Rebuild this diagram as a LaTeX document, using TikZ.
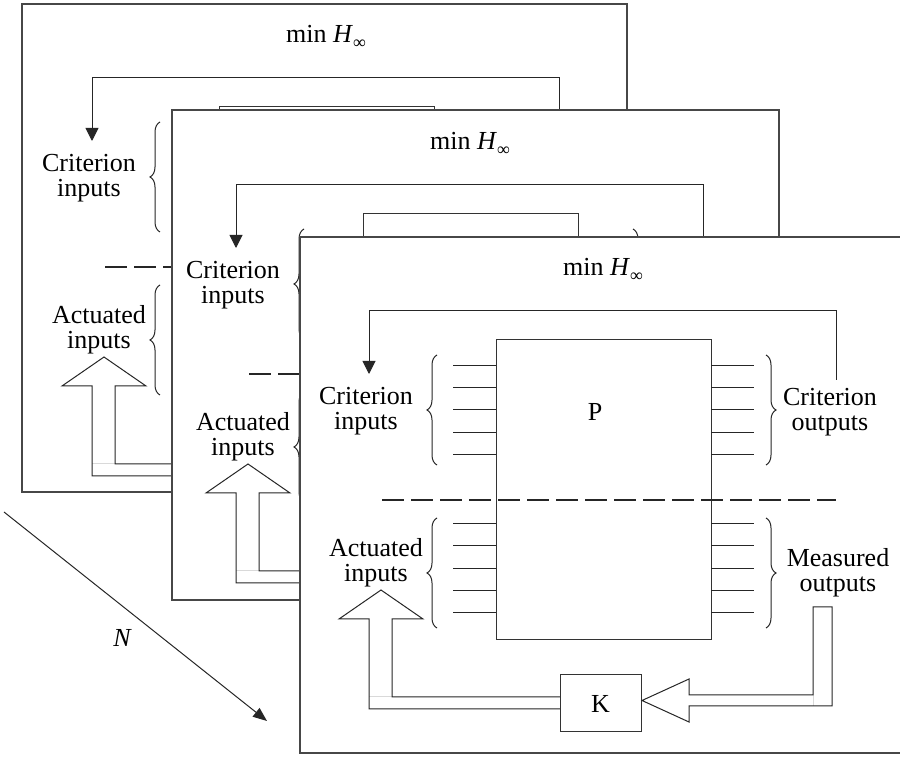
\documentclass[tikz,border=0pt]{standalone}
\usepackage{fontspec}
\setmainfont{Liberation Serif}
\usetikzlibrary{arrows.meta,decorations.pathreplacing}
\tikzset{
  panelbox/.style={draw=black!72, line width=0.7pt, fill=white},
  wire/.style={draw=black!85, line width=0.5pt},
  lbl/.style={font=\fontsize{13}{12.5}\selectfont, align=center, inner sep=0pt},
  fbarrow/.style={wire, -{Triangle[length=6.5pt,width=6.5pt]}},
  dashsep/.style={draw=black!85, line width=1.3pt, dash pattern=on 11pt off 3.5pt},
  bracel/.style={wire, decorate, decoration={brace, amplitude=5pt}},
  hollow/.style={wire, line join=miter},
  seam/.style={draw=black!15, line width=0.5pt},
  boxnode/.style={draw=black!80, line width=0.5pt, inner sep=0pt},
}
% #1 suffix, #2 #3 border corner, #4 #5 size, #6 #7 content origin, #8 = 1 for front panel (all parts)
\newcommand{\drawpanel}[8]{%
  \path[panelbox] (#2,#3) rectangle ++(#4,#5);
  \begin{scope}[shift={(#6,#7)}]
    \node[lbl] (min#1) at (303,33) {min \textit{H}\raisebox{-0.45ex}{\fontsize{9}{9}\selectfont ∞}};
    \node[boxnode, minimum width=107.5pt, minimum height=150pt] (P#1) at (303.5,253) {};
    \coordinate (fbs#1) at (536,143);
    \coordinate (fbc#1) at (69,74);
    \coordinate (fbe#1) at (69,137);
    \draw[fbarrow] (fbs#1) |- (fbc#1) -- (fbe#1);
    \draw[bracel] (137,228) -- (137,118);
    \draw[bracel] (137,391) -- (137,281);
    \draw[bracel] (466,118) -- (466,228);
    \draw[dashsep] (82,263) -- (536,263);
    \node[lbl] (ci#1) at (66,174) {Criterion\\inputs};
    \node[lbl] (ai#1) at (76,326) {Actuated\\inputs};
    \draw[seam] (69,460) -- (92,460);
    \draw[hollow] (260,460) -- (92,460) -- (92,382) -- (123,382) -- (81,353) -- (39,382) -- (69,382) -- (69,472) -- (260,472);
    \ifnum#8>0
      \node[lbl] (Pl#1) at (295,175) {P};
      \foreach \yy in {129,151,173,196,218,287,309,332,354,376}{
        \draw[wire] (153,\yy) -- (196,\yy);
        \draw[wire] (411,\yy) -- (454,\yy);
      }
      \draw[bracel] (466,281) -- (466,391);
      \node[lbl] (co#1) at (530,175) {Criterion\\outputs};
      \node[lbl] (mo#1) at (538,336) {Measured\\outputs};
      \node[boxnode, font=\fontsize{13}{12.5}\selectfont, minimum width=40.5pt, minimum height=28.5pt] (K#1) at (300.5,466.5) {K};
      \draw[seam] (513,458) -- (513,469);
      \draw[hollow] (389,458) -- (389,442) -- (342,463.5) -- (389,485) -- (389,469) -- (532,469) -- (532,370) -- (513,370) -- (513,458) -- cycle;
    \fi
  \end{scope}}
\begin{document}
\begin{tikzpicture}[x=0.5pt,y=-0.5pt]
  \useasboundingbox (0,0) rectangle (900,758);
  \clip (0,0) rectangle (900,758);
  \drawpanel{a}{22}{4}{605}{488}{23}{4}{0}
  \drawpanel{b}{172}{110}{607}{490}{167}{111}{0}
  \coordinate (Ns) at (4,512);
  \coordinate (Ne) at (267,721);
  \draw[wire, -{Triangle[length=7pt,width=5.5pt]}] (Ns) -- (Ne);
  \node[lbl, font=\fontsize{13}{12.5}\selectfont\itshape] (N) at (122,638) {N};
  \drawpanel{c}{300}{237}{640}{516}{300}{237}{1}
\end{tikzpicture}
\end{document}
